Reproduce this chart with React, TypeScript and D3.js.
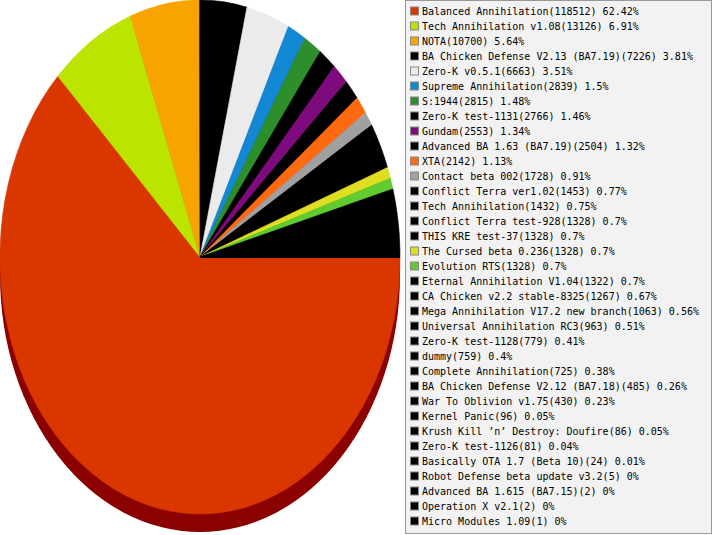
import * as d3 from "d3";
import * as React from "react";

const names = [
  "Balanced Annihilation",
  "Tech Annihilation v1.08",
  "NOTA",
  "BA Chicken Defense V2.13 (BA7.19)",
  "Zero-K v0.5.1",
  "Supreme Annihilation",
  "S:1944",
  "Zero-K test-1131",
  "Gundam",
  "Advanced BA 1.63 (BA7.19)",
  "XTA",
  "Contact beta 002",
  "Conflict Terra ver1.02",
  "Tech Annihilation",
  "Conflict Terra test-928",
  "THIS KRE test-37",
  "The Cursed beta 0.236",
  "Evolution RTS",
  "Eternal Annihilation V1.04",
  "CA Chicken v2.2 stable-8325",
  "Mega Annihilation V17.2 new branch",
  "Universal Annihilation RC3",
  "Zero-K test-1128",
  "dummy",
  "Complete Annihilation",
  "BA Chicken Defense V2.12 (BA7.18)",
  "War To Oblivion v1.75",
  "Kernel Panic",
  "Krush Kill \u2019n\u2019 Destroy: Doufire",
  "Zero-K test-1126",
  "Basically OTA 1.7 (Beta 10)",
  "Robot Defense beta update v3.2",
  "Advanced BA 1.615 (BA7.15)",
  "Operation X v2.1",
  "Micro Modules 1.09",
];

const counts = [
  118512, 13126, 10700, 7226, 6663, 2839, 2815, 2766, 2553, 2504, 2142, 1728,
  1453, 1432, 1328, 1328, 1328, 1328, 1322, 1267, 1063, 963, 779, 759, 725,
  485, 430, 96, 86, 81, 24, 5, 2, 2, 1,
];

const percents = [
  "62.42", "6.91", "5.64", "3.81", "3.51", "1.5", "1.48", "1.46", "1.34",
  "1.32", "1.13", "0.91", "0.77", "0.75", "0.7", "0.7", "0.7", "0.7", "0.7",
  "0.67", "0.56", "0.51", "0.41", "0.4", "0.38", "0.26", "0.23", "0.05",
  "0.05", "0.04", "0.01", "0", "0", "0", "0",
];

const colors = [
  "#d93600", "#bbe400", "#f8a400", "#000000", "#ebebeb", "#1287d4",
  "#2c8f2c", "#000000", "#7e0b7e", "#000000", "#ff6a10", "#a0a0a0",
  "#000000", "#000000", "#000000", "#000000", "#dede22", "#60cc30",
];

const W = 713;
const H = 535;
const cx = 200;
const cy = 257;
const rx = 200;
const ry = 257;
const depth = 18;

export default function App() {
  const items = names.map((n, i) => ({
    name: n,
    value: counts[i],
    pct: percents[i],
    color: colors[i] ?? "#000000",
  }));

  const pie = d3
    .pie<any>()
    .sort(null)
    .value((d) => d.value)
    .startAngle(Math.PI / 2)
    .endAngle(Math.PI / 2 + 2 * Math.PI);
  const arcs = pie(items);
  const arc = d3.arc<any>().innerRadius(0).outerRadius(rx);
  const sy = ry / rx;

  const rowY = d3
    .scaleLinear()
    .domain([0, items.length - 1])
    .range([11, 521]);

  return (
    <svg
      width={W}
      height={H}
      style={{ position: "absolute", left: 0, top: 0, background: "#fff" }}
    >
      <ellipse cx={cx} cy={cy + depth} rx={rx} ry={ry} fill="#8b0000" />
      <g transform={`translate(${cx},${cy}) scale(1,${sy})`}>
        {arcs.map((a, i) => (
          <path
            key={i}
            d={arc(a) as string}
            fill={a.data.color}
            stroke={a.data.color}
            strokeWidth={0.6}
            strokeLinejoin="round"
            vectorEffect="non-scaling-stroke"
          />
        ))}
      </g>
      <rect
        x={405.5}
        y={0.5}
        width={306}
        height={533}
        fill="#f2f2f2"
        stroke="#999999"
      />
      {items.map((d, i) => {
        const y = rowY(i);
        return (
          <g key={i}>
            <rect
              x={410.5}
              y={y - 4}
              width={8}
              height={8}
              fill={d.color}
              stroke="#888888"
            />
            <text
              x={422}
              y={y + 3.6}
              fontFamily="'DejaVu Sans Mono', monospace"
              fontSize={10}
              fill="#000"
            >
              {`${d.name}(${d.value}) ${d.pct}%`}
            </text>
          </g>
        );
      })}
    </svg>
  );
}
